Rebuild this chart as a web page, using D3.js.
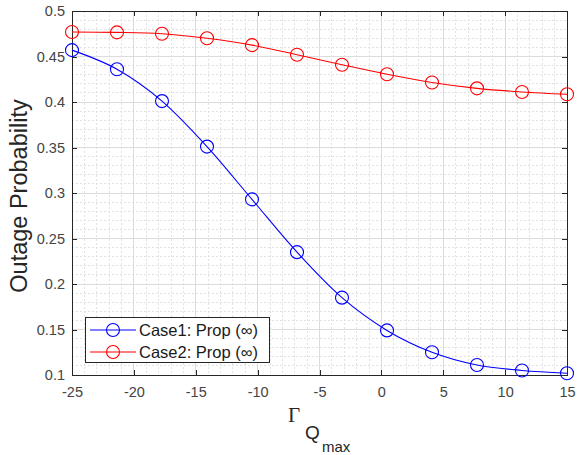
<!DOCTYPE html>
<html>
<head>
<meta charset="utf-8">
<script src="https://cdn.jsdelivr.net/npm/d3@7/dist/d3.min.js"></script>
<style>
  html, body { margin: 0; padding: 0; background: #fff; }
  svg { display: block; }
  text { font-family: "Liberation Sans", Arial, sans-serif; }
</style>
</head>
<body>
<svg id="chart" width="577" height="455"></svg>
<script>
// Gamma_Qmax sample points (12 evenly spaced from -25 to 15)
const gammaQmax = [-25, -21.364, -17.727, -14.091, -10.455, -6.818, -3.182, 0.455, 4.091, 7.727, 11.364, 15];
// Outage probability, Case 1 and Case 2
const case1 = [0.457, 0.436, 0.401, 0.351, 0.293, 0.235, 0.185, 0.149, 0.125, 0.111, 0.105, 0.102];
const case2 = [0.477, 0.4765, 0.475, 0.470, 0.4625, 0.452, 0.441, 0.4305, 0.4215, 0.415, 0.411, 0.4085];
const seriesNames = ["Case1: Prop (\u221E)", "Case2: Prop (\u221E)"];
const seriesColors = ["#0000ff", "#ff0000"];
const xTicks = [-25, -20, -15, -10, -5, 0, 5, 10, 15];
const yTicks = [0.1, 0.15, 0.2, 0.25, 0.3, 0.35, 0.4, 0.45, 0.5];

const svg = d3.select("#chart");
const plotL = 72, plotR = 567, plotT = 11, plotB = 375;

const x = d3.scaleLinear().domain([-25, 15]).range([plotL, plotR]);
const y = d3.scaleLinear().domain([0.1, 0.5]).range([plotB, plotT]);

// minor grid (dotted)
const g = svg.append("g");
g.selectAll("line.mx").data(d3.range(-24, 15, 1).filter(v => v % 5 !== 0))
  .join("line").attr("x1", d => x(d)).attr("x2", d => x(d))
  .attr("y1", plotT).attr("y2", plotB)
  .attr("stroke", "#e2e2e2").attr("stroke-width", 1).attr("stroke-dasharray", "2,2")
  .attr("shape-rendering", "crispEdges");
g.selectAll("line.my").data(d3.range(11, 50, 1).filter(v => v % 5 !== 0).map(v => v / 100))
  .join("line").attr("y1", d => y(d)).attr("y2", d => y(d))
  .attr("x1", plotL).attr("x2", plotR)
  .attr("stroke", "#e2e2e2").attr("stroke-width", 1).attr("stroke-dasharray", "2,2")
  .attr("shape-rendering", "crispEdges");

// major grid
g.selectAll("line.gx").data(xTicks.slice(1, -1))
  .join("line").attr("x1", d => x(d)).attr("x2", d => x(d))
  .attr("y1", plotT).attr("y2", plotB)
  .attr("stroke", "#dcdcdc").attr("stroke-width", 1).attr("shape-rendering", "crispEdges");
g.selectAll("line.gy").data(yTicks.slice(1, -1))
  .join("line").attr("y1", d => y(d)).attr("y2", d => y(d))
  .attr("x1", plotL).attr("x2", plotR)
  .attr("stroke", "#dcdcdc").attr("stroke-width", 1).attr("shape-rendering", "crispEdges");

// axes (ticks inward, box on all sides)
const tickLen = 5;
const axisColor = "#262626";
const fmtX = d => d3.format("d")(d).replace("\u2212", "-");
const fmtY = d => String(+d.toFixed(2));

const xAxisB = d3.axisBottom(x).tickValues(xTicks).tickSizeInner(-tickLen).tickSizeOuter(0).tickPadding(12).tickFormat(fmtX);
const xAxisT = d3.axisTop(x).tickValues(xTicks).tickSizeInner(-tickLen).tickSizeOuter(0).tickFormat("");
const yAxisL = d3.axisLeft(y).tickValues(yTicks).tickSizeInner(-tickLen).tickSizeOuter(0).tickPadding(7).tickFormat(fmtY);
const yAxisR = d3.axisRight(y).tickValues(yTicks).tickSizeInner(-tickLen).tickSizeOuter(0).tickFormat("");

function styleAxis(sel) {
  sel.select(".domain").attr("stroke", axisColor).attr("shape-rendering", "crispEdges");
  sel.selectAll(".tick line").attr("stroke", axisColor).attr("shape-rendering", "crispEdges");
  sel.selectAll(".tick text").attr("fill", "#444").style("font-size", "14.5px")
    .style("font-family", "'Liberation Sans', Arial, sans-serif");
}
svg.append("g").attr("transform", `translate(0,${plotB})`).call(xAxisB).call(styleAxis);
svg.append("g").attr("transform", `translate(0,${plotT})`).call(xAxisT).call(styleAxis);
svg.append("g").attr("transform", `translate(${plotL},0)`).call(yAxisL).call(styleAxis);
svg.append("g").attr("transform", `translate(${plotR},0)`).call(yAxisR).call(styleAxis);

// series
const line = d3.line().x(d => x(d[0])).y(d => y(d[1])).curve(d3.curveMonotoneX);
[case1, case2].forEach((vals, i) => {
  const pts = gammaQmax.map((gv, k) => [gv, vals[k]]);
  svg.append("path").datum(pts).attr("d", line)
    .attr("fill", "none").attr("stroke", seriesColors[i]).attr("stroke-width", 1.1);
  svg.append("g").selectAll("circle").data(pts).join("circle")
    .attr("cx", d => x(d[0])).attr("cy", d => y(d[1])).attr("r", 6.5)
    .attr("fill", "none").attr("stroke", seriesColors[i]).attr("stroke-width", 1.1);
});

// legend
const lg = svg.append("g");
lg.append("rect").attr("x", 85.5).attr("y", 317.5).attr("width", 184).attr("height", 45)
  .attr("fill", "#fff").attr("stroke", axisColor).attr("stroke-width", 1);
seriesNames.forEach((name, i) => {
  const cy = 330 + i * 22;
  lg.append("line").attr("x1", 90).attr("x2", 136).attr("y1", cy).attr("y2", cy)
    .attr("stroke", seriesColors[i]).attr("stroke-width", 1.1);
  lg.append("circle").attr("cx", 113).attr("cy", cy).attr("r", 6.5)
    .attr("fill", "none").attr("stroke", seriesColors[i]).attr("stroke-width", 1.1);
  lg.append("text").attr("x", 139).attr("y", cy + 6).text(name)
    .attr("fill", "#1a1a1a").style("font-size", "16.5px");
});

// y label
svg.append("text")
  .attr("transform", `translate(27,${(plotT + plotB) / 2 + 3}) rotate(-90)`)
  .attr("text-anchor", "middle").attr("fill", "#262626")
  .style("font-size", "23.5px").text("Outage Probability");

// x label: Gamma with nested subscripts
const xl = svg.append("text").attr("fill", "#262626");
xl.append("tspan").attr("x", 288).attr("y", 422)
  .style("font-family", "'Liberation Serif', 'Times New Roman', serif").style("font-size", "21px").text("\u0393");
xl.append("tspan").attr("x", 305).attr("y", 439).style("font-size", "19px").text("Q");
xl.append("tspan").attr("x", 322).attr("y", 452).style("font-size", "15px").text("max");
</script>
</body>
</html>
